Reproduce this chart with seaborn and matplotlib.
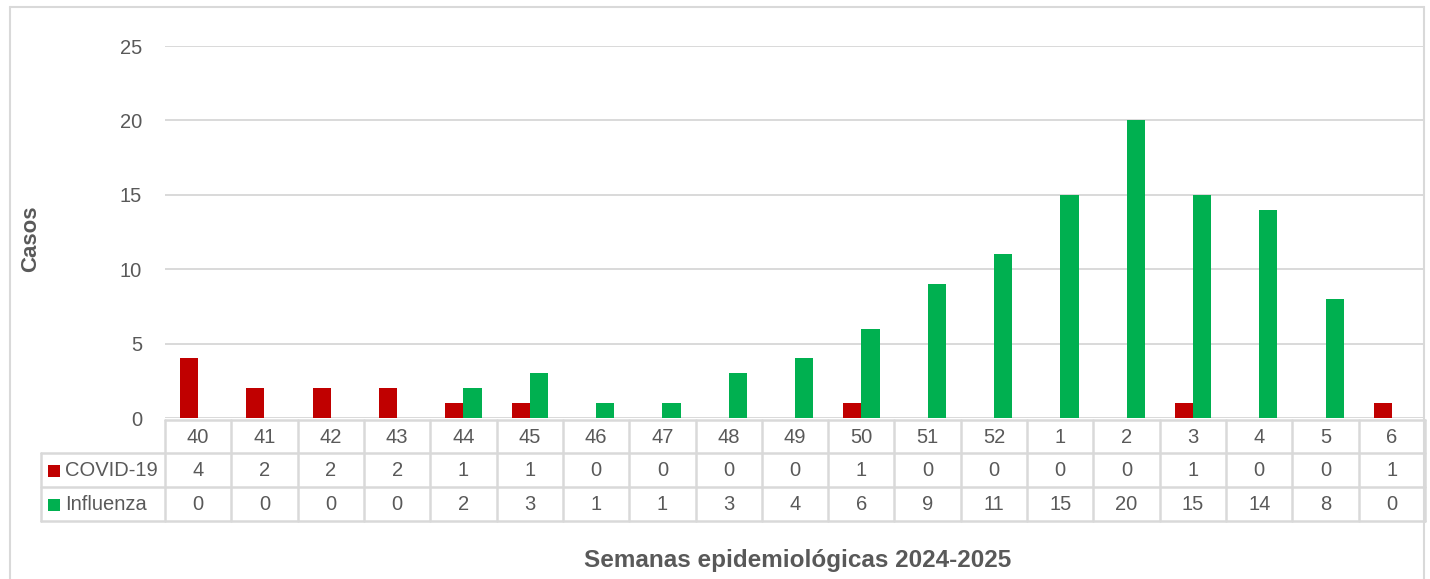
import matplotlib
matplotlib.use("Agg")
import matplotlib.pyplot as plt
import matplotlib.transforms as mtransforms
from matplotlib.patches import Rectangle
from matplotlib.lines import Line2D
import seaborn as sns
import pandas as pd

weeks = ["40", "41", "42", "43", "44", "45", "46", "47", "48", "49", "50", "51", "52",
         "1", "2", "3", "4", "5", "6"]
covid = [4, 2, 2, 2, 1, 1, 0, 0, 0, 0, 1, 0, 0, 0, 0, 1, 0, 0, 1]
influenza = [0, 0, 0, 0, 2, 3, 1, 1, 3, 4, 6, 9, 11, 15, 20, 15, 14, 8, 0]
series_names = ["COVID-19", "Influenza"]
colors = ["#C00000", "#00B050"]
x_title = "Semanas epidemiológicas 2024-2025"
y_title = "Casos"

df = pd.DataFrame({
    "Semana": weeks * 2,
    "Serie": [series_names[0]] * len(weeks) + [series_names[1]] * len(weeks),
    "Casos": covid + influenza,
})

sns.set_theme(style="white")
plt.rcParams["font.family"] = ["Liberation Sans", "DejaVu Sans"]
TXT = "#595959"
GRID = "#d9d9d9"

W, H = 1430, 579
fig = plt.figure(figsize=(W / 100, H / 100), dpi=100)

def fx(px):
    return px / W

def fy(py):
    return (H - py) / H

ax_left, ax_right, ax_top, ax_bot = 165, 1425, 46, 418
ax = fig.add_axes([fx(ax_left), fy(ax_bot), fx(ax_right - ax_left), (ax_bot - ax_top) / H])

sns.barplot(data=df, x="Semana", y="Casos", hue="Serie", order=weeks,
            hue_order=series_names, palette=colors, width=0.55, gap=0,
            saturation=1, ax=ax, legend=False, edgecolor="none")

ax.set_ylim(0, 25)
ax.set_xlim(-0.5, len(weeks) - 0.5)
ax.set_yticks([0, 5, 10, 15, 20, 25])
ax.yaxis.grid(True, color=GRID, linewidth=1.4)
ax.set_axisbelow(True)
for s in ax.spines.values():
    s.set_visible(False)
ax.set_xticks([])
ax.set_xlabel("")
ax.set_ylabel("")
ax.tick_params(axis="y", length=0, pad=16.5, labelsize=14.5, labelcolor=TXT)

# Data table below the chart
trans = mtransforms.blended_transform_factory(ax.transData, fig.transFigure)
row_edges = [420, 453, 487, 521]
legend_left = 41
n = len(weeks)
lw = 1.8

fig.add_artist(Line2D([fx(ax_left), fx(ax_right)], [fy(row_edges[0])] * 2,
                      transform=fig.transFigure, color=GRID, lw=lw))
for r in row_edges[1:]:
    fig.add_artist(Line2D([fx(legend_left), fx(ax_right)], [fy(r)] * 2,
                          transform=fig.transFigure, color=GRID, lw=lw))
for i in range(n + 1):
    fig.add_artist(Line2D([i - 0.5, i - 0.5], [fy(row_edges[0]), fy(row_edges[-1])],
                          transform=trans, color=GRID, lw=lw))
fig.add_artist(Line2D([fx(legend_left)] * 2, [fy(row_edges[1]), fy(row_edges[-1])],
                      transform=fig.transFigure, color=GRID, lw=lw))

rows = [weeks, [str(v) for v in covid], [str(v) for v in influenza]]
for r, vals in enumerate(rows):
    yc = fy((row_edges[r] + row_edges[r + 1]) / 2 + 1)
    for i, v in enumerate(vals):
        fig.text(i, yc, v, transform=trans, ha="center", va="center",
                 fontsize=14.5, color=TXT)

for k, name in enumerate(series_names):
    yc = (row_edges[k + 1] + row_edges[k + 2]) / 2
    fig.add_artist(Rectangle((fx(48), fy(yc + 7)), fx(12), 12 / H,
                             transform=fig.transFigure, facecolor=colors[k],
                             edgecolor="none"))
    fig.text(fx(65), fy(yc + 1), name, ha="left", va="center", fontsize=14.5, color=TXT)

# axis titles
fig.text(fx(798), fy(560), x_title, ha="center", va="center", fontsize=17.5,
         fontweight="bold", color=TXT)
fig.text(fx(31), fy(239), y_title, ha="center", va="center", fontsize=16,
         fontweight="bold", color=TXT, rotation=90)

# chart area border
fig.add_artist(Line2D([fx(10), fx(1424)], [fy(7)] * 2, transform=fig.transFigure,
                      color=GRID, lw=1.5))
fig.add_artist(Line2D([fx(10)] * 2, [fy(7), 0], transform=fig.transFigure,
                      color=GRID, lw=1.5))
fig.add_artist(Line2D([fx(1424)] * 2, [fy(7), 0], transform=fig.transFigure,
                      color=GRID, lw=1.5))

fig.savefig("out.png", dpi=100, facecolor="white")
